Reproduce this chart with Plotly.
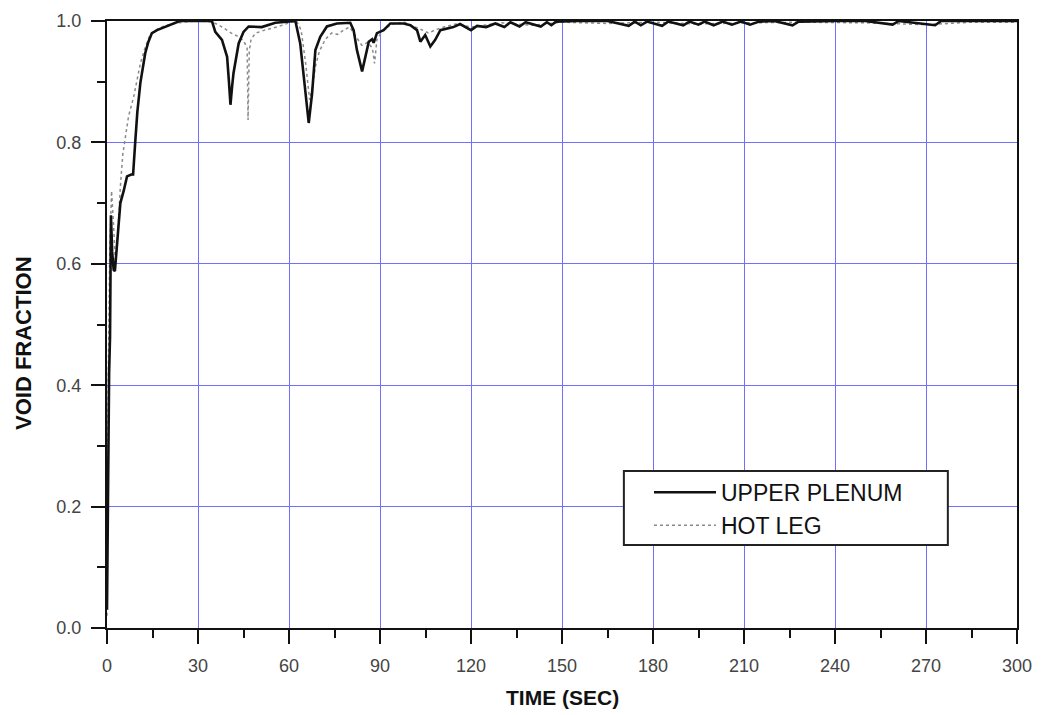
import plotly.graph_objects as go

# ---------------- data ----------------
up_time = [0.0, 0.3, 0.7, 1.0, 1.3, 1.7, 2.2, 2.6, 3.2, 3.8,
           4.4, 5.5, 6.6, 8.0, 8.6, 9.3, 10.0, 11.0, 12.0, 12.6,
           13.6, 14.8, 16.5, 18.1, 20.5, 22.5, 24.0, 34.6, 35.7, 37.9,
           39.6, 40.2, 40.7, 41.2, 41.7, 43.4, 45.0, 46.7, 51.0, 55.5,
           58.0, 61.0, 62.1, 63.7, 65.4, 66.5, 67.6, 68.7, 70.3, 72.5,
           75.8, 80.2, 81.3, 82.4, 84.1, 85.2, 86.3, 87.4, 87.9, 89.0,
           91.2, 93.4, 97.8, 100.0, 102.2, 103.3, 104.9, 106.6, 108.2, 109.9,
           112.0, 114.2, 116.4, 118.0, 120.0, 122.0, 125.0, 128.0, 131.0, 133.0,
           136.0, 138.0, 143.0, 145.0, 146.5, 148.0, 155.0, 165.0, 172.0, 174.0,
           176.0, 178.0, 183.0, 185.0, 190.0, 192.0, 195.0, 197.0, 200.0, 203.0,
           206.0, 209.0, 212.0, 215.0, 220.0, 226.0, 228.0, 240.0, 250.0, 259.0,
           261.0, 273.0, 275.0, 285.0, 300.0]
up_void = [0.03, 0.25, 0.42, 0.48, 0.68, 0.62, 0.59, 0.588, 0.63, 0.66,
           0.70, 0.72, 0.744, 0.747, 0.747, 0.80, 0.85, 0.898, 0.93, 0.947,
           0.965, 0.98, 0.985, 0.988, 0.993, 0.997, 1.0, 1.0, 0.982, 0.969,
           0.941, 0.90, 0.862, 0.89, 0.914, 0.963, 0.982, 0.991, 0.99, 0.997,
           0.998, 1.0, 1.0, 0.963, 0.88, 0.832, 0.88, 0.952, 0.974, 0.991,
           0.996, 0.997, 0.985, 0.952, 0.917, 0.941, 0.966, 0.97, 0.964, 0.98,
           0.985, 0.996, 0.996, 0.993, 0.985, 0.966, 0.977, 0.958, 0.969, 0.985,
           0.988, 0.99, 0.995, 0.99, 0.985, 0.992, 0.99, 0.996, 0.99, 0.998,
           0.991, 0.998, 0.991, 0.998, 0.993, 0.999, 1.0, 1.0, 0.992, 0.999,
           0.993, 0.999, 0.992, 0.999, 0.993, 0.999, 0.994, 0.999, 0.993, 0.999,
           0.994, 0.999, 0.994, 0.999, 1.0, 0.993, 0.999, 1.0, 1.0, 0.994,
           1.0, 0.993, 1.0, 1.0, 1.0]

hl_time = [0.0, 0.4, 0.9, 1.5, 2.2, 2.8, 3.4, 4.4, 5.2, 6.0,
           7.1, 8.0, 8.8, 10.0, 11.0, 12.5, 14.0, 16.0, 18.0, 21.0,
           25.0, 30.0, 35.0, 38.0, 41.0, 43.0, 45.0, 46.2, 46.5, 46.9,
           47.5, 49.0, 52.0, 56.0, 60.0, 62.5, 64.0, 65.5, 66.8, 68.0,
           68.7, 70.0, 72.0, 74.0, 76.0, 78.0, 80.0, 82.0, 84.0, 86.0,
           87.5, 88.2, 89.0, 91.0, 94.0, 98.0, 102.0, 104.0, 106.0, 108.0,
           111.0, 115.0, 120.0, 130.0, 140.0, 150.0, 165.0, 180.0, 195.0, 210.0,
           230.0, 250.0, 270.0, 285.0, 300.0]
hl_void = [0.02, 0.40, 0.62, 0.72, 0.66, 0.60, 0.63, 0.727, 0.78, 0.81,
           0.843, 0.86, 0.875, 0.905, 0.93, 0.955, 0.975, 0.985, 0.99, 0.995,
           0.998, 1.0, 0.998, 0.99, 0.98, 0.975, 0.968, 0.955, 0.837, 0.95,
           0.97, 0.98, 0.985, 0.99, 0.997, 1.0, 0.985, 0.93, 0.87, 0.90,
           0.925, 0.95, 0.97, 0.98, 0.978, 0.985, 0.99, 0.975, 0.96, 0.965,
           0.955, 0.93, 0.97, 0.985, 0.995, 0.998, 0.99, 0.985, 0.98, 0.985,
           0.99, 0.995, 0.99, 0.997, 0.993, 0.998, 0.996, 0.998, 0.995, 0.997,
           0.998, 0.997, 0.994, 0.998, 0.998]

x_ticks = [0, 30, 60, 90, 120, 150, 180, 210, 240, 270, 300]
y_ticks = [0.0, 0.2, 0.4, 0.6, 0.8, 1.0]

series_names = ["UPPER PLENUM", "HOT LEG"]
x_title = "TIME (SEC)"
y_title = "VOID FRACTION"

# ---------------- figure ----------------
FONT = "Liberation Sans, Arial, sans-serif"

fig = go.Figure()
fig.add_trace(go.Scatter(x=hl_time, y=hl_void, mode="lines", name=series_names[1],
                         line=dict(color="#8a8a8a", width=1.5, dash="dot")))
fig.add_trace(go.Scatter(x=up_time, y=up_void, mode="lines", name=series_names[0],
                         line=dict(color="#111111", width=2.6)))

axis_common = dict(
    showline=True, linecolor="#111111", linewidth=2, mirror=True,
    showgrid=True, gridcolor="#7070ff", gridwidth=1,
    zeroline=False, automargin=False,
    ticks="outside", ticklen=14, tickwidth=2, tickcolor="#111111",
    tickfont=dict(family=FONT, size=18, color="#444444"),
)

fig.update_xaxes(range=[0, 300], tickvals=x_ticks,
                 minor=dict(dtick=15, tick0=0, ticks="outside", ticklen=8,
                            tickwidth=2, tickcolor="#111111", showgrid=False),
                 ticklabelstandoff=6, **axis_common)
fig.update_yaxes(range=[0, 1], tickvals=y_ticks, tickformat=".1f",
                 minor=dict(dtick=0.1, tick0=0, ticks="outside", ticklen=8,
                            tickwidth=2, tickcolor="#111111", showgrid=False),
                 ticklabelstandoff=6, **axis_common)

fig.add_annotation(text=f"<b>{x_title}</b>", xref="paper", yref="paper",
                   x=0.5, y=-0.115, xanchor="center", yanchor="middle", showarrow=False,
                   font=dict(family=FONT, size=21, color="#111111"))
fig.add_annotation(text=f"<b>{y_title}</b>", xref="paper", yref="paper",
                   x=-0.092, y=0.47, xanchor="center", yanchor="middle", showarrow=False,
                   textangle=-90,
                   font=dict(family=FONT, size=22, color="#111111"))

# legend frame (drawn as a shape so its padding can match the reference)
fig.add_shape(type="rect", xref="paper", yref="paper",
              x0=0.568, x1=0.924, y0=0.1367, y1=0.2587,
              line=dict(color="#222222", width=2), fillcolor="white", layer="above")

# page body has an 8px default margin, so the figure is sized/offset to land
# its plot area at the reference position inside the 1044x715 window
fig.update_layout(
    width=1036, height=707,
    margin=dict(l=99, r=27, t=13, b=87),
    paper_bgcolor="white", plot_bgcolor="white",
    showlegend=True,
    legend=dict(x=0.5956, y=0.259, xanchor="left", yanchor="top",
                bgcolor="rgba(0,0,0,0)", borderwidth=0,
                font=dict(family=FONT, size=23, color="#111111"),
                itemwidth=62, traceorder="reversed", tracegroupgap=0),
)

fig.write_html("out.html")
